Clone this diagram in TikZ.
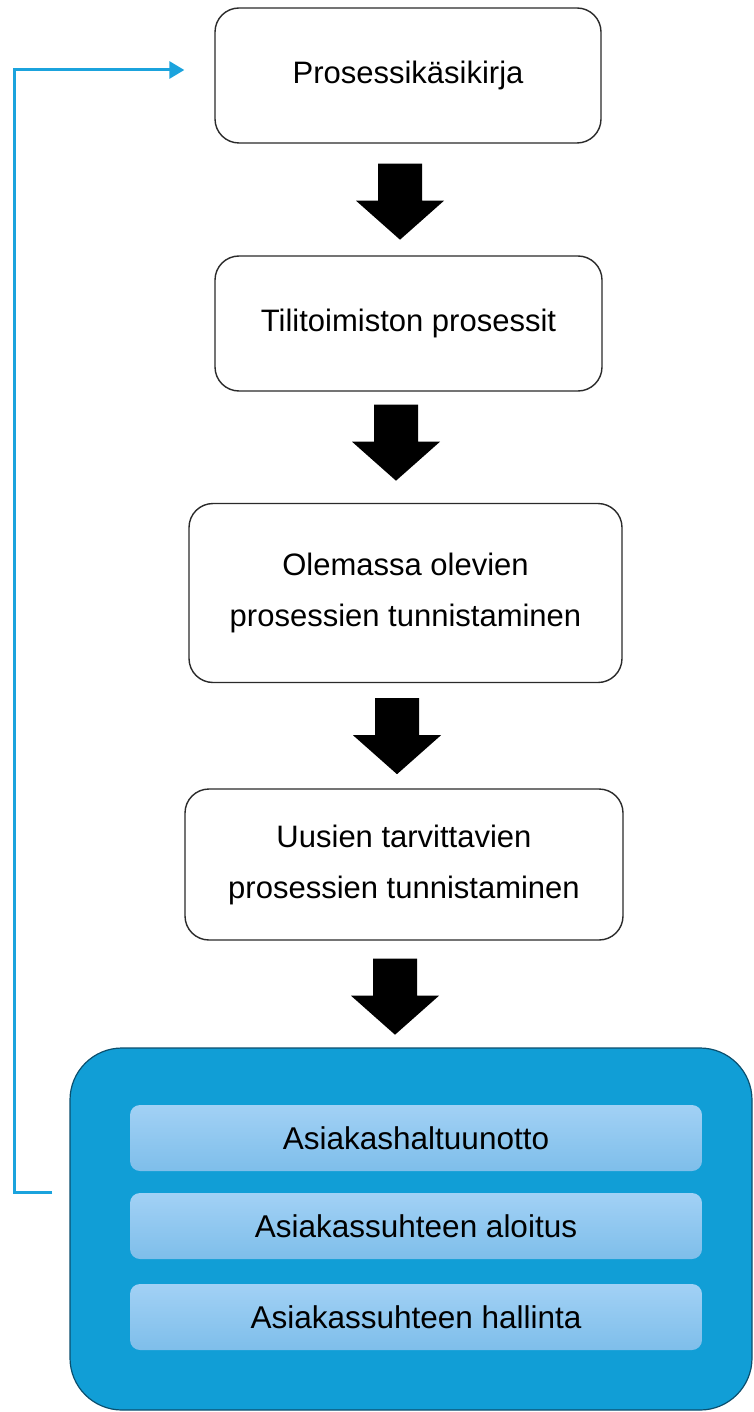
\documentclass[tikz,border=0pt]{standalone}
\usepackage{fontspec}
\setmainfont{Liberation Sans}
\usetikzlibrary{arrows.meta,calc}
\definecolor{bigblue}{HTML}{119ED6}
\definecolor{bigedge}{HTML}{0B4F6E}
\definecolor{linkblue}{HTML}{1BA3DD}
\definecolor{innertop}{HTML}{A2D1F5}
\definecolor{innerbot}{HTML}{7EBEEA}
\definecolor{boxedge}{HTML}{2A2A2A}
\newcommand{\myblockarrow}[1]{%
  \fill[black] (#1) ++(-22,0) -- ++(44,0) -- ++(0,37) -- ++(22,0) -- ++(-44,39)
    -- ++(-44,-39) -- ++(22,0) -- cycle;}
\begin{document}
\begin{tikzpicture}[x=1pt,y=-1pt,
  stepbox/.style={draw=boxedge, line width=1.4pt, rounded corners=24pt, fill=white,
    font=\fontsize{31}{51}\selectfont, align=center, inner sep=0pt},
  groupbox/.style={draw=bigedge, line width=1.2pt, rounded corners=52pt, fill=bigblue, inner sep=0pt},
  subbox/.style={rounded corners=10pt, top color=innertop, bottom color=innerbot, draw=none,
    minimum width=572pt, minimum height=66pt, inner sep=0pt,
    font=\fontsize{31.5}{36}\selectfont},
  link/.style={draw=linkblue, line width=3pt, -{Triangle[length=15pt,width=17pt]}}
]
\useasboundingbox (0,0) rectangle (753,1412);

\node[stepbox, minimum width=386pt, minimum height=135pt] (b1) at (408,75.5) {Prosessikäsikirja};
\node[stepbox, minimum width=387pt, minimum height=135pt] (b2) at (408.5,323.5) {Tilitoimiston prosessit};
\node[stepbox, minimum width=433pt, minimum height=179pt] (b3) at (405.5,593) {Olemassa olevien\\prosessien tunnistaminen};
\node[stepbox, minimum width=438pt, minimum height=151pt] (b4) at (404,864.5) {Uusien tarvittavien\\prosessien tunnistaminen};

\node[groupbox, minimum width=682pt, minimum height=362pt] (big) at (411,1229) {};
\node[subbox] (in1) at (416,1138) {Asiakashaltuunotto};
\node[subbox] (in2) at (416,1226) {Asiakassuhteen aloitus};
\node[subbox] (in3) at (416,1317) {Asiakassuhteen hallinta};

\coordinate (a1) at ([xshift=-8pt,yshift=-20pt]b1.south);
\coordinate (a2) at ([xshift=-12.5pt,yshift=-13pt]b2.south);
\coordinate (a3) at ([xshift=-8.5pt,yshift=-15pt]b3.south);
\coordinate (a4) at ([xshift=-9pt,yshift=-18pt]b4.south);
\myblockarrow{a1}
\myblockarrow{a2}
\myblockarrow{a3}
\myblockarrow{a4}

\coordinate (fbstart) at ([xshift=-17pt]big.west |- in2.north);
\coordinate (fbend) at ([xshift=-30pt,yshift=5.5pt]b1.west);
\draw[link] (fbstart) -- ++(-38,0) |- (fbend);
\end{tikzpicture}
\end{document}
